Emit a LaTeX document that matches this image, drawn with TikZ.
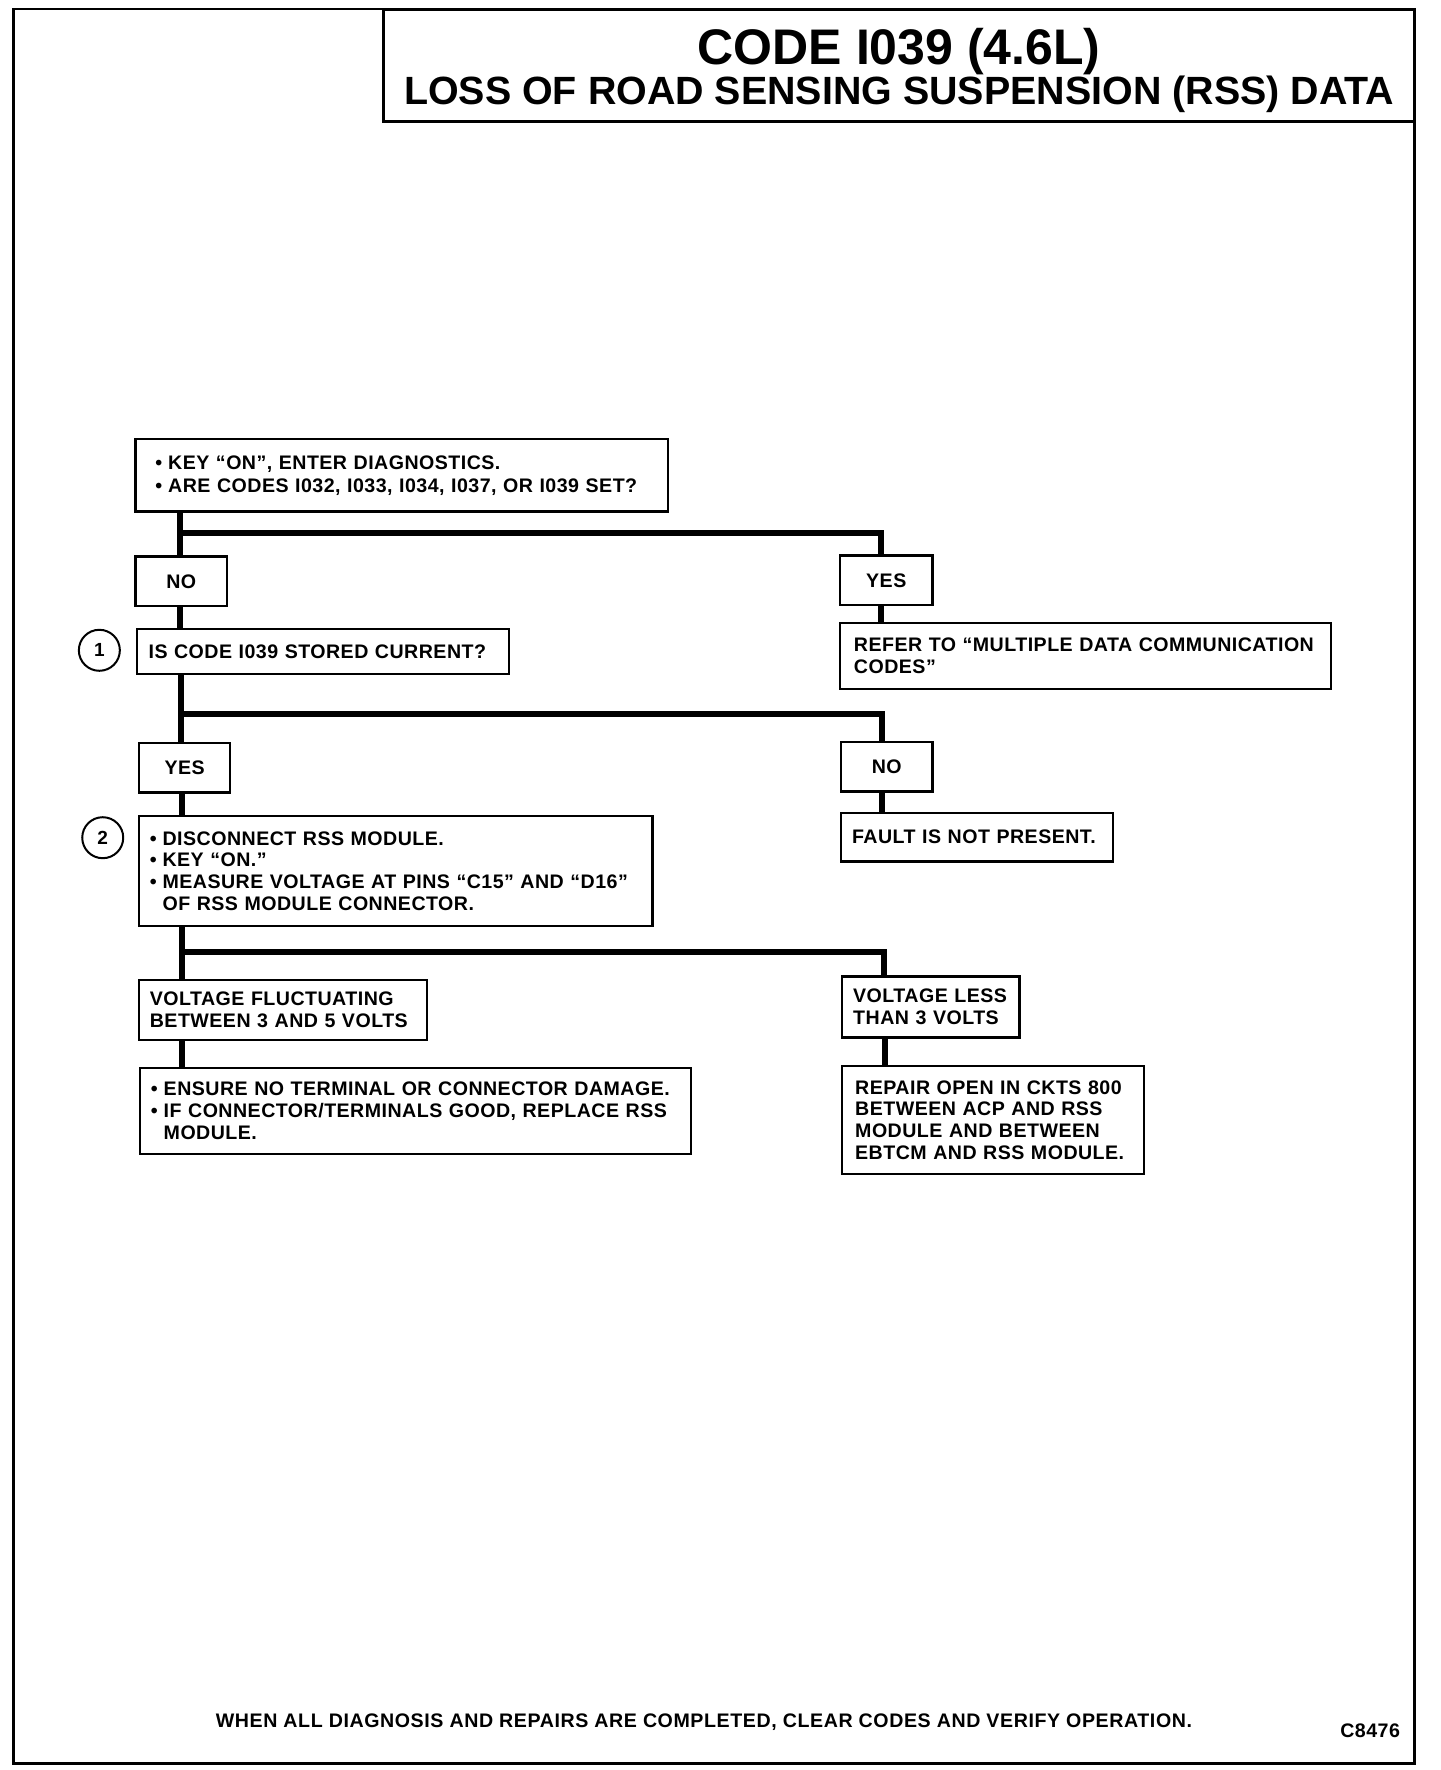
\documentclass[tikz,border=0pt]{standalone}
\usepackage{fontspec}
\setmainfont{Liberation Sans}
\newfontfamily\boxfont[LetterSpace=2.4]{Liberation Sans}
\newfontfamily\footfont[LetterSpace=3.0]{Liberation Sans}
\newcommand\bxfont{\boxfont\bfseries\fontsize{19.6}{21.8}\selectfont}
\tikzset{
  boxnode/.style={draw, line width=2.2pt, inner sep=0pt, align=left, font=\bxfont},
  lblnode/.style={draw, line width=2.2pt, inner sep=0pt, align=center, font=\bxfont},
  conn/.style={line width=6pt, line join=miter, line cap=butt},
  numcircle/.style={draw, circle, line width=2pt, minimum size=41pt, inner sep=0pt, font=\bfseries\fontsize{19}{19}\selectfont},
}
% name, x1, y1, x2, y2, pad (px), text
\newcommand\bx[7]{%
  \pgfmathsetmacro\bw{(#4-#2)*1.129}%
  \pgfmathsetmacro\bh{(#5-#3)*1.129}%
  \pgfmathsetmacro\tw{\bw-2*#6}%
  \node[boxnode, minimum width=\bw pt, minimum height=\bh pt, text width=\tw pt] (#1) at ({(#2+#4)/2},{(#3+#5)/2}) {#7};%
}
\newcommand\lb[6]{%
  \pgfmathsetmacro\bw{(#4-#2)*1.129}%
  \pgfmathsetmacro\bh{(#5-#3)*1.129}%
  \node[lblnode, minimum width=\bw pt, minimum height=\bh pt] (#1) at ({(#2+#4)/2},{(#3+#5)/2}) {#6};%
}
\newcommand\bul{\makebox[0.65em][l]{•}}
\newcommand\nobul{\hspace*{0.65em}}
\begin{document}
\begin{tikzpicture}[x=1.129pt, y=-1.129pt]
\fill[white] (0,0) rectangle (1275.5,1567.8);
\useasboundingbox (0,0) rectangle (1275.5,1567.8);
% frame
\draw[line width=2.5pt] (12,8) rectangle (1253,1562);
% title
\pgfmathsetmacro\tbw{(1253-340)*1.129}
\pgfmathsetmacro\tbh{(108-8)*1.129}
\node[draw, line width=3pt, inner sep=0pt, minimum width=\tbw pt, minimum height=\tbh pt] (titlebox) at (796.5,58) {};
\node[anchor=base, font=\bfseries\fontsize{50}{52}\selectfont, inner sep=0pt] (t1) at (796.5,57) {CODE I039 (4.6L)};
\node[anchor=base, font=\bfseries\fontsize{39.4}{42}\selectfont, inner sep=0pt] (t2) at (796.5,93) {LOSS OF ROAD SENSING SUSPENSION (RSS) DATA};

% boxes
\bx{A}{120}{389}{592}{453}{20}{\mbox{\bul KEY “ON”, ENTER DIAGNOSTICS.}\\[1pt]\mbox{\bul ARE CODES I032, I033, I034, I037, OR I039 SET?}}
\lb{no1}{120}{493}{201}{537}{NO}
\lb{yes1}{744}{492}{826}{536}{YES}
\bx{q1}{121}{557}{451}{597}{12}{\mbox{IS CODE I039 STORED CURRENT?}}
\bx{ref}{744}{552}{1179}{610}{14}{\mbox{REFER TO “MULTIPLE DATA COMMUNICATION}\\\mbox{CODES”}}
\lb{yes2}{123}{658}{204}{702}{YES}
\lb{no2}{745}{657}{826}{701}{NO}
\bx{fault}{745}{720}{986}{763}{11}{\mbox{FAULT IS NOT PRESENT.}}
\bx{q2}{123}{723}{578}{820}{11}{\mbox{\bul DISCONNECT RSS MODULE.}\\\mbox{\bul KEY “ON.”}\\\mbox{\bul MEASURE VOLTAGE AT PINS “C15” AND “D16”}\\\mbox{\nobul OF RSS MODULE CONNECTOR.}}
\bx{vf}{123}{868}{378}{921}{11}{\mbox{VOLTAGE FLUCTUATING}\\\mbox{BETWEEN 3 AND 5 VOLTS}}
\bx{vl}{746}{865}{903}{919}{11}{\mbox{VOLTAGE LESS}\\\mbox{THAN 3 VOLTS}}
\bx{ens}{124}{946}{612}{1022}{11}{\mbox{\bul ENSURE NO TERMINAL OR CONNECTOR DAMAGE.}\\\mbox{\bul IF CONNECTOR/TERMINALS GOOD, REPLACE RSS}\\\mbox{\nobul MODULE.}}
\bx{rep}{746}{944}{1013}{1040}{13}{\mbox{REPAIR OPEN IN CKTS 800}\\\mbox{BETWEEN ACP AND RSS}\\\mbox{MODULE AND BETWEEN}\\\mbox{EBTCM AND RSS MODULE.}}

% step circles
\node[numcircle] (c1) at (88,576) {1};
\node[numcircle] (c2) at (91,742) {2};

% trunk coordinates
\coordinate (l1) at (159,472);
\coordinate (r1) at (780,472);
\coordinate (l2) at (160,632);
\coordinate (r2) at (781,632);
\coordinate (l3) at (161,843);
\coordinate (r3) at (783,843);
\coordinate (l4) at (161,930);
\coordinate (r4) at (784,930);

% connectors
\draw[conn] (A.south -| l1) -- (no1.north -| l1);
\draw[conn] (l1) -| (yes1.north -| r1);
\draw[conn] (no1.south -| l1) -- (q1.north -| l1);
\draw[conn] (yes1.south -| r1) -- (ref.north -| r1);

\draw[conn] (q1.south -| l2) -- (yes2.north -| l2);
\draw[conn] (l2) -| (no2.north -| r2);
\draw[conn] (yes2.south -| l3) -- (q2.north -| l3);
\draw[conn] (no2.south -| r2) -- (fault.north -| r2);

\draw[conn] (q2.south -| l3) -- (vf.north -| l3);
\draw[conn] (l3) -| (vl.north -| r3);
\draw[conn] (vf.south -| l4) -- (ens.north -| l4);
\draw[conn] (vl.south -| r4) -- (rep.north -| r4);

% footer
\node[anchor=base west, inner sep=0pt, font=\footfont\bfseries\fontsize{19.6}{22}\selectfont] (foot) at (191,1530) {WHEN ALL DIAGNOSIS AND REPAIRS ARE COMPLETED, CLEAR CODES AND VERIFY OPERATION.};
\node[anchor=base west, inner sep=0pt, font=\bxfont] (code) at (1187,1539) {C8476};
\end{tikzpicture}
\end{document}
